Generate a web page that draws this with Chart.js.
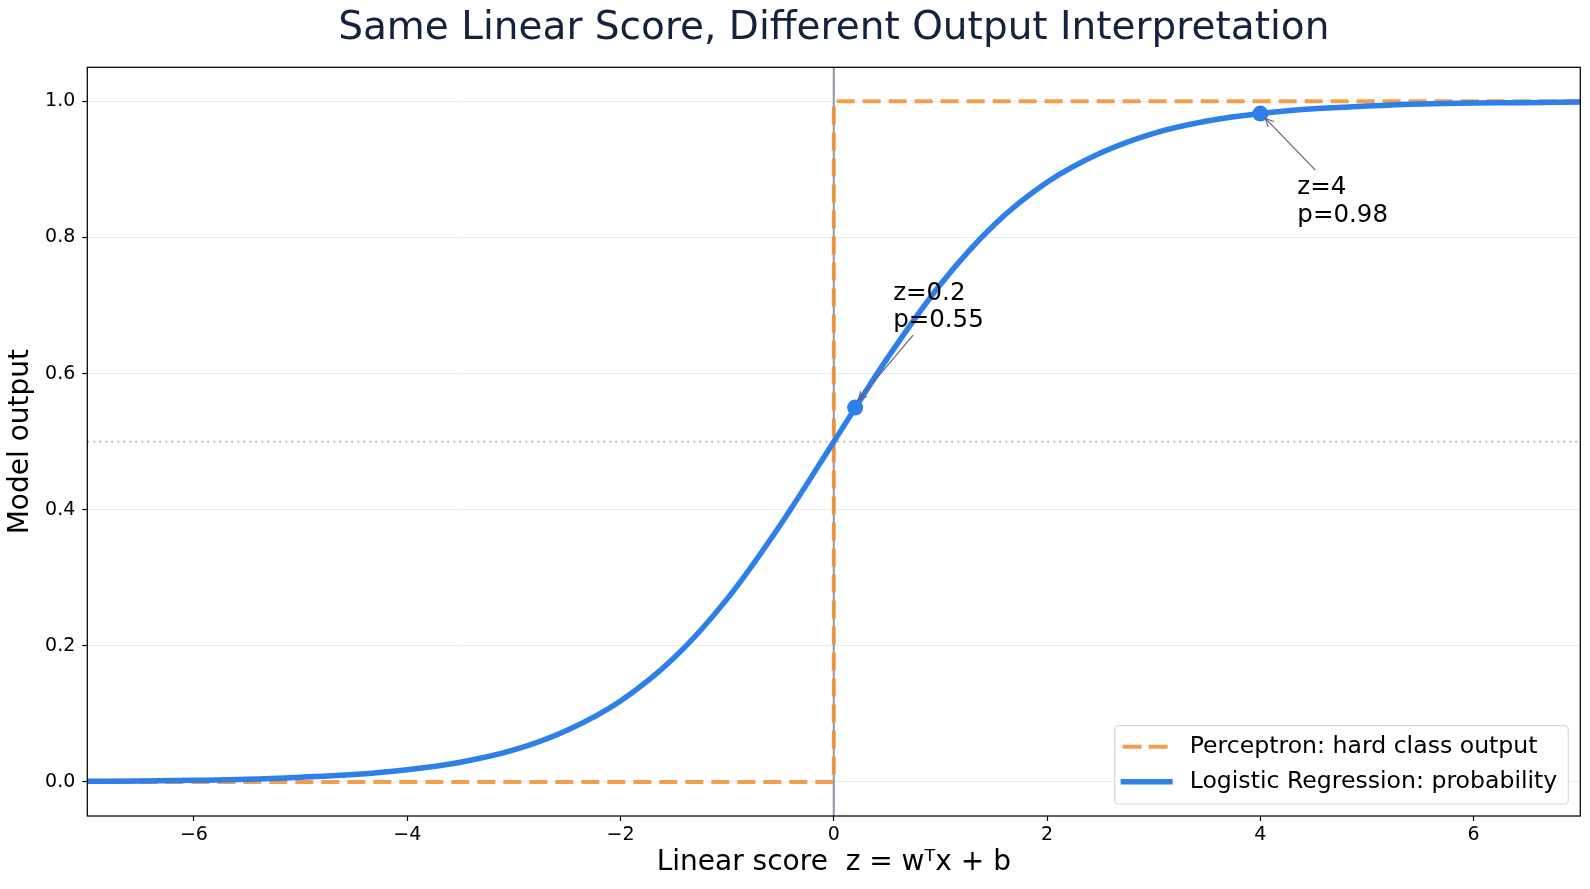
<!DOCTYPE html>
<html><head><meta charset="utf-8">
<script src="https://cdn.jsdelivr.net/npm/chart.js@4.4.1/dist/chart.umd.min.js"></script>
<style>html,body{margin:0;padding:0;background:#fff;}#wrap{width:1590px;height:889px;}</style>
</head><body><div id="wrap"><canvas id="c" width="1590" height="889"></canvas></div>
<script>
// ---- data ----
const zValues = [-7,-6.5,-6,-5.5,-5,-4.5,-4,-3.5,-3,-2.5,-2,-1.5,-1,-0.5,0,0.5,1,1.5,2,2.5,3,3.5,4,4.5,5,5.5,6,6.5,7];
const logisticProb = [0.001,0.0015,0.0025,0.004,0.007,0.011,0.018,0.029,0.047,0.076,0.119,0.182,0.269,0.378,0.5,0.622,0.731,0.818,0.881,0.924,0.953,0.971,0.982,0.989,0.993,0.996,0.9975,0.998,0.999];
const perceptronZ = [-7,0,0,7];
const perceptronOut = [0,0,1,1];
const markerZ = [0.2,4];
const markerP = [0.55,0.982];
const markerLabels = [['z=0.2','p=0.55'],['z=4','p=0.98']];
const seriesLabels = ['Perceptron: hard class output','Logistic Regression: probability'];
const xTicks = [-6,-4,-2,0,2,4,6];
const yTicks = [0,0.2,0.4,0.6,0.8,1.0];
const xRange = [-7,7];
const yRange = [-0.05,1.05];
const thresholdZ = 0;
const thresholdP = 0.5;
const titleText = 'Same Linear Score, Different Output Interpretation';
const xTitle = 'Linear score  z = w\u1D40x + b';
const yTitle = 'Model output';

// ---- styles ----
const FONT = "'DejaVu Sans', 'Liberation Sans', sans-serif";
const BLUE = '#2f7fe9';
const ORANGE = 'rgba(242,142,43,0.85)';
const annotStyle = [
  {tx:38, ty:-108, lh:27.2, ax:58, ay:-72.6, ex:3.3, ey:-7.6},
  {tx:37, ty:80.5, lh:27.7, ax:55, ay:56.5, ex:5, ey:4.8}
];

const overlay = {
  id:'overlay',
  beforeDatasetsDraw(chart){
    const {ctx, chartArea:a, scales:{x,y}} = chart;
    ctx.save();
    ctx.beginPath(); ctx.rect(a.left,a.top,a.right-a.left,a.bottom-a.top); ctx.clip();
    const yp = y.getPixelForValue(thresholdP);
    ctx.strokeStyle='rgba(120,128,140,0.6)'; ctx.lineWidth=1.6; ctx.setLineDash([2,4]);
    ctx.beginPath(); ctx.moveTo(a.left,yp); ctx.lineTo(a.right,yp); ctx.stroke();
    const xp = x.getPixelForValue(thresholdZ);
    ctx.setLineDash([]); ctx.strokeStyle='rgba(80,92,115,0.6)'; ctx.lineWidth=2.2;
    ctx.beginPath(); ctx.moveTo(xp,a.top); ctx.lineTo(xp,a.bottom); ctx.stroke();
    ctx.restore();
  },
  afterDraw(chart){
    const {ctx, chartArea:a, scales:{x,y}} = chart;
    ctx.save();
    // title centred over the plot area
    ctx.fillStyle='#13223d'; ctx.font='39px '+FONT; ctx.textAlign='center'; ctx.textBaseline='middle';
    ctx.fillText(titleText, (a.left+a.right)/2, 28.5);
    // frame
    ctx.strokeStyle='#000'; ctx.lineWidth=1.25;
    ctx.strokeRect(a.left,a.top,a.right-a.left,a.bottom-a.top);
    // annotations
    markerZ.forEach((z,i)=>{
      const px = x.getPixelForValue(z), py = y.getPixelForValue(markerP[i]);
      const s = annotStyle[i];
      const sx = px+s.ax, sy = py+s.ay, exx = px+s.ex, eyy = py+s.ey;
      ctx.strokeStyle='#5c6679'; ctx.lineWidth=1.2;
      ctx.beginPath(); ctx.moveTo(sx,sy); ctx.lineTo(exx,eyy); ctx.stroke();
      const ang = Math.atan2(eyy-sy, exx-sx);
      const hl = 9, hw = 0.45;
      ctx.beginPath();
      ctx.moveTo(exx - hl*Math.cos(ang-hw), eyy - hl*Math.sin(ang-hw));
      ctx.lineTo(exx,eyy);
      ctx.lineTo(exx - hl*Math.cos(ang+hw), eyy - hl*Math.sin(ang+hw));
      ctx.stroke();
      ctx.fillStyle='#000'; ctx.font='24.5px '+FONT; ctx.textBaseline='alphabetic'; ctx.textAlign='left';
      markerLabels[i].forEach((t,k)=>ctx.fillText(t, px+s.tx, py+s.ty+k*s.lh));
    });
    // legend
    ctx.font='23.6px '+FONT;
    const tw = Math.max(...seriesLabels.map(t=>ctx.measureText(t).width));
    const bw = 6+52+17+tw+11, bh = 78.3;
    const bx = a.right-12-bw, by = a.bottom-12-bh;
    ctx.fillStyle='rgba(255,255,255,0.85)'; ctx.strokeStyle='#d8d8d8'; ctx.lineWidth=1.2;
    ctx.beginPath(); ctx.roundRect(bx,by,bw,bh,4); ctx.fill(); ctx.stroke();
    const entries = [
      {label:seriesLabels[0], color:ORANGE, w:4, dash:[19,7]},
      {label:seriesLabels[1], color:BLUE, w:5.5, dash:[]}
    ];
    entries.forEach((e,k)=>{
      const ey = by+21+k*35;
      ctx.strokeStyle=e.color; ctx.lineWidth=e.w; ctx.setLineDash(e.dash);
      ctx.beginPath(); ctx.moveTo(bx+(k?6:8),ey); ctx.lineTo(bx+(k?58:53),ey); ctx.stroke();
      ctx.setLineDash([]);
      ctx.fillStyle='#000'; ctx.textBaseline='middle'; ctx.textAlign='left';
      ctx.fillText(e.label, bx+75, ey);
    });
    ctx.restore();
  }
};

const fmtX = v => v<0 ? '\u2212'+Math.abs(v) : String(v);

new Chart(document.getElementById('c'), {
  type:'line',
  data:{datasets:[
    {label:'points', data:markerZ.map((z,i)=>({x:z,y:markerP[i]})), showLine:false, pointRadius:8, pointBackgroundColor:BLUE, pointBorderColor:BLUE, pointBorderWidth:0},
    {label:seriesLabels[1], data:zValues.map((z,i)=>({x:z,y:logisticProb[i]})), borderColor:BLUE, borderWidth:5.5, pointRadius:0, cubicInterpolationMode:'monotone', fill:false},
    {label:seriesLabels[0], data:perceptronZ.map((z,i)=>({x:z,y:perceptronOut[i]})), borderColor:ORANGE, borderWidth:4, borderDash:[18,8], pointRadius:0, tension:0, fill:false}
  ]},
  options:{
    responsive:false, animation:false, events:[], devicePixelRatio:1,
    layout:{padding:{left:0,right:9.7,top:67.3,bottom:0}},
    plugins:{legend:{display:false}, tooltip:{enabled:false}, title:{display:false}},
    scales:{
      x:{type:'linear', min:xRange[0], max:xRange[1],
        afterBuildTicks:s=>{s.ticks = xTicks.map(v=>({value:v}));},
        afterFit:s=>{s.height=73;},
        grid:{drawOnChartArea:false, drawTicks:true, tickLength:5, tickColor:'#000', tickWidth:1.2},
        border:{display:false},
        ticks:{font:{family:FONT,size:19}, color:'#000', padding:3, maxRotation:0, autoSkip:false, callback:v=>fmtX(v)},
        title:{display:true, text:xTitle, color:'#000', font:{family:FONT,size:28}, padding:{top:0,bottom:9}}
      },
      y:{type:'linear', min:yRange[0], max:yRange[1],
        afterBuildTicks:s=>{s.ticks = yTicks.map(v=>({value:v}));},
        afterFit:s=>{s.width=87.3;},
        grid:{color:'#ebebeb', lineWidth:1, drawTicks:true, tickLength:5, tickColor:'#000', tickWidth:1.2},
        border:{display:false},
        ticks:{font:{family:FONT,size:19}, color:'#000', padding:7, autoSkip:false, callback:v=>v.toFixed(1)},
        title:{display:true, text:yTitle, color:'#000', font:{family:FONT,size:28}, padding:{top:3.5,bottom:0}}
      }
    }
  },
  plugins:[overlay]
});
</script></body></html>
